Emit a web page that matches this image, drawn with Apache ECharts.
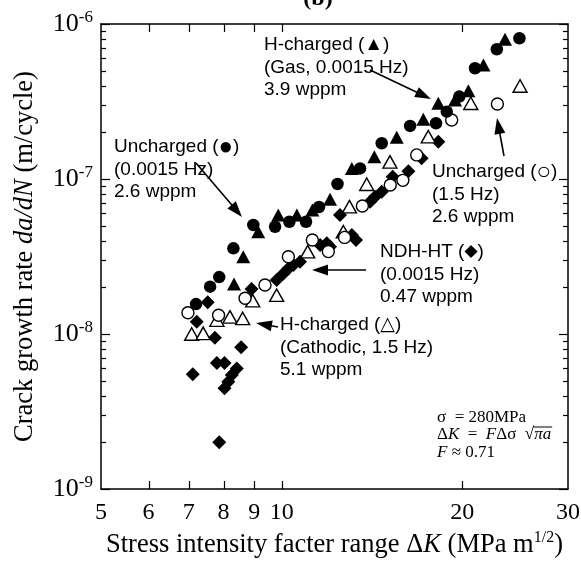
<!DOCTYPE html>
<html><head><meta charset="utf-8">
<script src="https://cdn.jsdelivr.net/npm/echarts@6/dist/echarts.min.js"></script>
<style>html,body{margin:0;padding:0;background:#fff}#c{width:581px;height:561px}</style>
</head><body><div id="c"></div>
<script>
// ---- data (ΔK in MPa m^1/2, da/dN in m/cycle) ----
const unchargedSlow = [[7.20,1.56e-8],[7.60,2.02e-8],[7.87,2.33e-8],[8.31,3.57e-8],[8.97,5.05e-8],[9.75,4.92e-8],[10.30,5.30e-8],[10.98,5.30e-8],[11.54,6.6e-8],[12.39,9.28e-8],[13.51,1.17e-7],[14.68,1.70e-7],[16.37,2.20e-7],[18.08,2.29e-7],[18.84,2.72e-7],[19.77,3.40e-7],[21.00,5.18e-7],[22.83,6.87e-7],[24.90,8.09e-7]];
const hChargedGas = [[8.33,2.10e-8],[8.63,3.15e-8],[9.14,4.57e-8],[9.87,5.86e-8],[10.60,5.86e-8],[11.25,6.3e-8],[12.04,7.4e-8],[13.09,1.17e-7],[14.27,1.39e-7],[15.55,1.86e-7],[17.22,2.43e-7],[18.24,3.08e-7],[19.45,3.23e-7],[20.47,3.71e-7],[21.69,5.44e-7],[23.56,7.97e-7]];
const unchargedFast = [[6.98,1.37e-8],[7.85,1.32e-8],[8.69,1.70e-8],[9.38,2.07e-8],[10.26,3.15e-8],[11.25,4.04e-8],[11.96,3.40e-8],[12.73,4.2e-8],[13.63,6.7e-8],[15.17,9.15e-8],[15.92,9.8e-8],[16.79,1.43e-7],[19.20,2.40e-7],[22.88,3.05e-7]];
const hChargedCath = [[7.08,1.00e-8],[7.40,1.01e-8],[7.80,1.23e-8],[8.20,1.29e-8],[8.61,1.26e-8],[8.95,1.64e-8],[9.81,1.78e-8],[11.05,3.4e-8],[12.67,4.57e-8],[12.97,6.63e-8],[13.86,9.25e-8],[15.15,1.29e-7],[17.55,1.875e-7],[20.66,3.08e-7],[24.96,3.98e-7]];
const ndhHT = [[7.11,5.5e-9],[7.22,1.20e-8],[7.53,1.60e-8],[7.74,9.46e-9],[7.80,6.5e-9],[8.03,6.5e-9],[7.87,2.0e-9],[8.42,6.0e-9],[8.26,5.44e-9],[8.15,4.92e-9],[8.03,4.46e-9],[8.56,8.21e-9],[8.91,1.95e-8],[9.81,2.23e-8],[10.07,2.46e-8],[10.26,2.65e-8],[10.46,2.79e-8],[10.73,2.93e-8],[11.59,3.75e-8],[11.89,3.85e-8],[12.04,3.66e-8],[12.51,5.86e-8],[13.09,4.35e-8],[13.30,4.04e-8],[14.04,7.14e-8],[14.31,7.69e-8],[14.68,8.28e-8],[15.31,1.035e-7],[16.26,1.12e-7],[17.11,1.36e-7],[18.24,1.74e-7]];

// ---- axis ticks / labels ----
const xLabels = [5,6,7,8,9,10,20,30];
const xTicks = [6,7,8,9,10,20];
const yMajor = [1e-9,1e-8,1e-7,1e-6];
const yMinorMult = [2,3,4,5,6,7,8,9];
const yMinor = [];
[1e-9,1e-8,1e-7].forEach(d => yMinorMult.forEach(m => yMinor.push(+(m*d).toPrecision(3))));

const SERIF = '"Liberation Serif","Times New Roman",serif';
const SANS = '"Liberation Sans",Arial,"DejaVu Sans",sans-serif';
const BLACK = '#000';

const chart = echarts.init(document.getElementById('c'), null, {renderer: 'canvas'});

function xAxisDef(pos, withLabels) {
  return {
    type: 'log', logBase: 10, min: 5, max: 30, position: pos,
    axisLine: {show: true, onZero: false, lineStyle: {color: BLACK, width: 1.5}},
    axisTick: {show: false},
    axisLabel: withLabels ? {show: true, customValues: xLabels, margin: 12, color: BLACK, fontFamily: SERIF, fontSize: 24} : {show: false},
    splitLine: {show: false}, minorTick: {show: false},
    name: withLabels ? 'Stress intensity facter range Δ{i|K} (MPa m{s|1/2})' : '',
    nameLocation: 'middle', nameGap: 25,
    nameTextStyle: {color: BLACK, fontFamily: SERIF, fontSize: 26.5,
      rich: {i: {fontFamily: SERIF, fontSize: 26.5, fontStyle: 'italic', color: BLACK},
             s: {fontFamily: SERIF, fontSize: 16, color: BLACK, padding: [0,0,14,0]}}}
  };
}
function yAxisDef(pos, withLabels) {
  return {
    type: 'log', logBase: 10, min: 1e-9, max: 1e-6, position: pos,
    axisLine: {show: true, onZero: false, lineStyle: {color: BLACK, width: 1.5}},
    axisTick: {show: false},
    axisLabel: withLabels ? {
      show: true, customValues: yMajor, margin: 8,
      formatter: v => '{a|10}{b|' + Math.round(Math.log10(v)) + '}',
      rich: {a: {fontFamily: SERIF, fontSize: 26, color: BLACK},
             b: {fontFamily: SERIF, fontSize: 17, color: BLACK, padding: [0,0,13,0]}}
    } : {show: false},
    splitLine: {show: false}, minorTick: {show: false},
    name: withLabels ? 'Crack growth rate {i|da/dN} (m/cycle)' : '',
    nameLocation: 'middle', nameGap: 62, nameRotate: 90,
    nameTextStyle: {color: BLACK, fontFamily: SERIF, fontSize: 26.5,
      rich: {i: {fontFamily: SERIF, fontSize: 26.5, fontStyle: 'italic', color: BLACK}}}
  };
}

function arrow(x1, y1, x2, y2) {
  const dx = x2 - x1, dy = y2 - y1, len = Math.hypot(dx, dy), ux = dx / len, uy = dy / len;
  const hl = 16, hw = 5.5, bx = x2 - ux * hl, by = y2 - uy * hl;
  return [
    {type: 'line', silent: true, shape: {x1, y1, x2: bx + ux * 2, y2: by + uy * 2}, style: {stroke: BLACK, lineWidth: 1.6}},
    {type: 'polygon', silent: true, shape: {points: [[x2, y2], [bx - uy * hw, by + ux * hw], [bx + uy * hw, by - ux * hw]]}, style: {fill: BLACK}}
  ];
}
const symRich = {
  tri: {fontFamily: SANS, fontSize: 19, color: BLACK},
  cir: {fontFamily: SANS, fontSize: 24, color: BLACK},
  dia: {fontFamily: '"DejaVu Sans",sans-serif', fontSize: 17, color: BLACK},
  otri: {fontFamily: '"DejaVu Sans",sans-serif', fontSize: 19, color: BLACK}
};
function label(x, y, lines) {
  return lines.map((t, i) => ({
    type: 'text', silent: true, x: x, y: y + i * 22.5,
    style: {text: t, fontFamily: SANS, fontSize: 19, fill: BLACK, align: 'left', verticalAlign: 'middle', rich: symRich}
  }));
}
const FS = 17;
const fRich = {
  r: {fontFamily: SERIF, fontSize: FS, color: BLACK},
  i: {fontFamily: SERIF, fontSize: FS, fontStyle: 'italic', color: BLACK}
};
function ftext(x, y, t) {
  return {type: 'text', silent: true, x, y, style: {text: t, fontFamily: SERIF, fontSize: FS, fill: BLACK, align: 'left', verticalAlign: 'middle', rich: fRich}};
}
const ctx = document.createElement('canvas').getContext('2d');
function tw(t, it) { ctx.font = (it ? 'italic ' : '') + FS + 'px ' + SERIF; return ctx.measureText(t).width; }
const fx = 437;
const sqrtStart = fx + tw('Δ') + tw('K', 1) + tw('  =  ') + tw('F', 1) + tw('Δσ  ') + tw('√');
const sqrtEnd = sqrtStart + tw('πa', 1);

const annotations = [].concat(
  [{type: 'text', silent: true, x: 318, y: -1, style: {text: '(b)', fontFamily: SERIF, fontSize: 24, fontWeight: 'bold', fill: BLACK, align: 'center', verticalAlign: 'middle'}}],
  label(264, 45, ['H-charged ({tri|▲})', '(Gas, 0.0015 Hz)', '3.9 wppm']),
  arrow(370, 70, 431, 99),
  label(114, 147, ['Uncharged ({cir|●})', '(0.0015 Hz)', '2.6 wppm']),
  arrow(196, 163, 242, 217),
  label(432, 172, ['Uncharged ({cir|○})', '(1.5 Hz)', '2.6 wppm']),
  arrow(504, 156, 497, 118),
  label(380, 252, ['NDH-HT ({dia|◆})', '(0.0015 Hz)', '0.47 wppm']),
  arrow(366, 270, 312, 270),
  label(280, 325, ['H-charged ({otri|△})', '(Cathodic, 1.5 Hz)', '5.1 wppm']),
  arrow(278, 327, 256, 323),
  [ftext(fx, 418, '{r|σ  = 280MPa}'),
   ftext(fx, 435, '{r|Δ}{i|K}{r|  =  }{i|F}{r|Δσ  }{r|√}{i|πa}'),
   ftext(fx, 453, '{i|F}{r| ≈ 0.71}'),
   {type: 'line', silent: true, shape: {x1: sqrtStart - 1, y1: 427, x2: sqrtEnd + 1, y2: 427}, style: {stroke: BLACK, lineWidth: 1}}]
);

const scatterItem = (fill) => ({color: fill, borderColor: BLACK, opacity: 1});
chart.setOption({
  animation: false,
  backgroundColor: '#fff',
  grid: {left: 101, right: 13, top: 24, bottom: 72, containLabel: false, outerBoundsMode: 'none'},
  xAxis: [xAxisDef('bottom', true), xAxisDef('top', false)],
  yAxis: [yAxisDef('left', true), yAxisDef('right', false)],
  series: [
    {name: 'NDH-HT', type: 'scatter', data: ndhHT, symbol: 'diamond', symbolSize: 14, itemStyle: Object.assign(scatterItem(BLACK), {borderWidth: 0})},
    {name: 'H-charged cathodic', type: 'scatter', data: hChargedCath, symbol: 'triangle', symbolSize: [14, 12.5], itemStyle: Object.assign(scatterItem('#fff'), {borderWidth: 1.4})},
    {name: 'Uncharged 1.5 Hz', type: 'scatter', data: unchargedFast, symbol: 'circle', symbolSize: 12, itemStyle: Object.assign(scatterItem('#fff'), {borderWidth: 1.4})},
    {name: 'Uncharged 0.0015 Hz', type: 'scatter', data: unchargedSlow, symbol: 'circle', symbolSize: 12.5, itemStyle: Object.assign(scatterItem(BLACK), {borderWidth: 0})},
    {name: 'H-charged gas', type: 'scatter', data: hChargedGas, symbol: 'triangle', symbolSize: [14, 13], itemStyle: Object.assign(scatterItem(BLACK), {borderWidth: 0})}
  ]
});

// inward tick marks placed through the axes' own scales
const px = v => chart.convertToPixel({xAxisIndex: 0}, v);
const py = v => chart.convertToPixel({yAxisIndex: 0}, v);
const gL = px(5), gR = px(30), gT = py(1e-6), gB = py(1e-9);
const ticks = [];
function tick(x1, y1, x2, y2) {
  ticks.push({type: 'line', silent: true, z: 10, shape: {x1, y1, x2, y2}, style: {stroke: BLACK, lineWidth: 1.2}});
}
xTicks.forEach(v => {
  const x = Math.round(px(v)) + 0.5;
  tick(x, gB, x, gB - 8);
  tick(x, gT, x, gT + 8);
});
yMajor.concat(yMinor).forEach(v => {
  const y = Math.round(py(v)) + 0.5, len = yMajor.indexOf(v) >= 0 ? 9 : 5;
  tick(gL, y, gL + len, y);
  tick(gR, y, gR - len, y);
});

chart.setOption({graphic: ticks.concat(annotations)});
</script></body></html>
